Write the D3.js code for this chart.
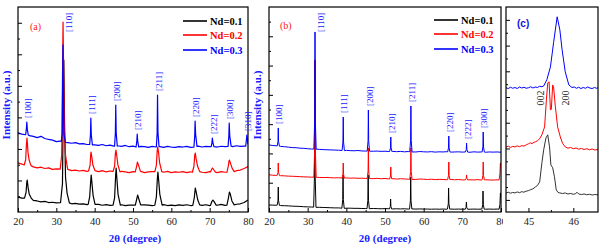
<!DOCTYPE html>
<html>
<head>
<meta charset="utf-8">
<script src="https://cdn.jsdelivr.net/npm/d3@7"></script>
<style>
body { margin: 0; background: #fff; }
svg text { font-family: "Liberation Serif", "Times New Roman", serif; }
</style>
</head>
<body>
<svg id="chart" width="600" height="247"></svg>
<script>
// ---- data ----
const seriesNames = ["Nd=0.1", "Nd=0.2", "Nd=0.3"];
const peakLabels = ["[100]", "[110]", "[111]", "[200]", "[210]", "[211]", "[220]", "[222]", "[300]", "[310]"];

// panel (a): baseline intensity at 2theta = 20, 21, ... 80
const baseA1 = [470, 440, 420, 400, 370, 350, 320, 335, 300, 310,
  290, 300, 280, 270, 260, 275, 250, 260, 235, 250,
  225, 240, 215, 235, 210, 225, 205, 230, 200, 220,
  215, 230, 205, 225, 215, 200, 230, 210, 235, 205,
  220, 200, 225, 210, 230, 205, 220, 240, 210, 230,
  200, 225, 215, 240, 210, 230, 220, 245, 260, 300, 380];
const baseA2 = [1560, 1520, 1500, 1470, 1430, 1400, 1420, 1380, 1400, 1350,
  1370, 1340, 1330, 1350, 1310, 1330, 1300, 1320, 1290, 1310,
  1300, 1280, 1310, 1270, 1300, 1280, 1260, 1290, 1270, 1250,
  1280, 1260, 1290, 1250, 1270, 1280, 1250, 1275, 1260, 1290,
  1250, 1270, 1260, 1280, 1250, 1275, 1260, 1290, 1260, 1250,
  1280, 1265, 1250, 1280, 1260, 1275, 1290, 1310, 1330, 1380, 1440];
const baseA3 = [2510, 2470, 2450, 2420, 2400, 2360, 2400, 2330, 2300, 2280,
  2230, 2250, 2210, 2200, 2180, 2200, 2160, 2170, 2140, 2150,
  2130, 2110, 2140, 2100, 2120, 2090, 2100, 2080, 2110, 2070,
  2090, 2060, 2080, 2070, 2050, 2080, 2060, 2070, 2050, 2080,
  2060, 2050, 2075, 2060, 2080, 2050, 2070, 2090, 2060, 2080,
  2070, 2090, 2060, 2085, 2070, 2090, 2075, 2100, 2080, 2090, 2100];

const peaksA1 = [
  [[21.7,440],[22.1,620],[22.3,950],[22.4,1014],[22.65,760],[22.95,560],[23.5,430]],
  [[31.1,300],[31.6,900],[31.8,3200],[31.95,4818],[32.15,2800],[32.4,1100],[32.8,600],[33.4,290]],
  [[38.3,240],[38.7,480],[38.95,950],[39.1,1173],[39.3,900],[39.6,520],[40.1,240]],
  [[44.8,215],[45.2,450],[45.45,1100],[45.6,1395],[45.8,1050],[46.1,560],[46.7,220]],
  [[50.6,215],[51.0,420],[51.2,539],[51.5,420],[52.0,225]],
  [[55.7,215],[56.1,480],[56.35,1050],[56.5,1268],[56.7,1000],[57.0,560],[57.6,220]],
  [[65.6,210],[66.0,460],[66.25,761],[66.5,620],[66.9,380],[67.4,225]],
  [[70.2,205],[70.6,340],[70.85,380],[71.2,320],[71.7,215]],
  [[74.5,215],[74.9,450],[75.15,634],[75.4,560],[75.8,350],[76.4,225]]
];
const peaksA2 = [
  [[21.6,1490],[22.0,1650],[22.2,2150],[22.35,2346],[22.6,1900],[22.9,1650],[23.4,1470]],
  [[31.0,1360],[31.4,1800],[31.6,4200],[31.75,6023],[31.9,4500],[32.1,2600],[32.4,1800],[32.9,1400]],
  [[38.4,1300],[38.8,1480],[38.95,1800],[39.05,1902],[39.25,1750],[39.55,1480],[40.1,1310]],
  [[44.8,1290],[45.2,1450],[45.4,1850],[45.55,1965],[45.75,1800],[46.05,1500],[46.6,1270]],
  [[50.6,1270],[51.0,1480],[51.15,1585],[51.45,1480],[51.95,1290]],
  [[55.7,1280],[56.1,1480],[56.3,1920],[56.45,2060],[56.65,1900],[56.95,1560],[57.5,1280]],
  [[65.5,1260],[65.9,1450],[66.1,1800],[66.25,1870],[66.45,1700],[66.85,1450],[67.4,1280]],
  [[70.2,1270],[70.5,1350],[70.75,1395],[71.05,1340],[71.5,1265]],
  [[74.5,1260],[74.9,1480],[75.05,1620],[75.15,1648],[75.45,1540],[75.85,1390],[76.4,1280]]
];
const peaksA3 = [
  [[22.0,2450],[22.2,2650],[22.3,2853],[22.45,2600],[22.7,2440]],
  [[31.3,2240],[31.55,2500],[31.65,4200],[31.72,5294],[31.82,3800],[32.0,2450],[32.4,2210]],
  [[38.7,2140],[38.9,2450],[39.0,2980],[39.12,2450],[39.4,2130]],
  [[45.2,2090],[45.4,2500],[45.5,3392],[45.62,2500],[45.9,2090]],
  [[50.8,2060],[51.0,2250],[51.1,2473],[51.22,2250],[51.5,2060]],
  [[56.1,2070],[56.3,2500],[56.4,3709],[56.52,2500],[56.8,2070]],
  [[65.9,2060],[66.1,2400],[66.2,2885],[66.35,2450],[66.7,2080]],
  [[70.4,2070],[70.6,2200],[70.7,2346],[70.85,2200],[71.1,2070]],
  [[74.8,2080],[75.0,2400],[75.1,2821],[75.25,2400],[75.6,2090]],
  [[79.4,2090],[79.6,2300],[79.7,2441],[79.85,2300],[80.0,2150]]
];
const peakAngleA = [22.3, 31.72, 39.0, 45.5, 51.1, 56.4, 66.2, 70.7, 75.1, 79.6];

// panel (b)
const baseB1 = [240, 235, 230, 220, 215, 210, 200, 195, 190, 180,
  175, 170, 165, 160, 155, 150, 145, 140, 140, 135,
  130, 130, 125, 125, 120, 120, 115, 120, 115, 110,
  115, 110, 105, 110, 105, 110, 100, 105, 100, 105,
  100, 100, 95, 100, 95, 100, 95, 100, 95, 100,
  95, 100, 95, 100, 95, 100, 95, 100, 95, 100, 95];
const baseB2 = [1270, 1255, 1250, 1240, 1235, 1225, 1220, 1215, 1205, 1200,
  1195, 1190, 1185, 1180, 1175, 1180, 1170, 1165, 1170, 1160,
  1165, 1155, 1160, 1150, 1155, 1145, 1150, 1140, 1150, 1135,
  1145, 1130, 1140, 1125, 1135, 1130, 1120, 1130, 1115, 1125,
  1120, 1110, 1120, 1105, 1115, 1110, 1100, 1115, 1100, 1110,
  1095, 1105, 1100, 1095, 1105, 1090, 1100, 1095, 1090, 1100, 1090];
const baseB3 = [2290, 2270, 2260, 2240, 2230, 2215, 2200, 2195, 2180, 2175,
  2160, 2150, 2145, 2140, 2130, 2125, 2120, 2115, 2110, 2100,
  2105, 2095, 2090, 2100, 2085, 2080, 2090, 2075, 2080, 2070,
  2075, 2065, 2070, 2060, 2070, 2055, 2065, 2060, 2050, 2065,
  2055, 2050, 2060, 2045, 2055, 2050, 2060, 2045, 2050, 2055,
  2045, 2050, 2040, 2055, 2045, 2050, 2040, 2050, 2045, 2050, 2040];

const peaksB1 = [
  [[22.1,230],[22.32,380],[22.4,854],[22.48,380],[22.7,225]],
  [[31.55,165],[31.77,1300],[31.85,5191],[31.93,1300],[32.15,160]],
  [[38.85,130],[39.07,420],[39.15,1264],[39.23,420],[39.45,125]],
  [[45.35,115],[45.57,400],[45.65,1264],[45.73,400],[45.95,110]],
  [[51.15,105],[51.37,190],[51.45,444],[51.53,190],[51.75,100]],
  [[56.35,100],[56.57,380],[56.65,1195],[56.73,380],[56.95,100]],
  [[66.15,100],[66.37,280],[66.45,820],[66.53,280],[66.75,95]],
  [[70.75,95],[70.97,160],[71.05,342],[71.13,160],[71.35,95]],
  [[75.05,95],[75.27,250],[75.35,717],[75.43,250],[75.65,95]],
  [[79.5,95],[79.72,250],[79.85,650],[80.0,500]]
];
const peaksB2 = [
  [[22.1,1250],[22.32,1350],[22.4,1673],[22.48,1350],[22.7,1245]],
  [[31.6,1190],[31.82,2200],[31.9,5191],[31.98,2200],[32.2,1185]],
  [[38.9,1160],[39.12,1290],[39.2,1673],[39.28,1290],[39.5,1155]],
  [[45.4,1145],[45.62,1400],[45.7,2186],[45.78,1400],[46.0,1140]],
  [[51.2,1125],[51.42,1230],[51.5,1537],[51.58,1230],[51.8,1120]],
  [[56.4,1115],[56.62,1380],[56.7,2186],[56.78,1380],[57.0,1110]],
  [[66.2,1105],[66.42,1250],[66.5,1707],[66.58,1250],[66.8,1100]],
  [[70.8,1100],[71.02,1150],[71.1,1264],[71.18,1150],[71.4,1095]],
  [[75.1,1095],[75.32,1250],[75.4,1707],[75.48,1250],[75.7,1095]],
  [[79.5,1095],[79.72,1300],[79.85,1673],[80.0,1500]]
];
const peaksB3 = [
  [[22.1,2250],[22.32,2400],[22.4,2869],[22.48,2400],[22.7,2245]],
  [[31.6,2150],[31.82,3150],[31.9,6147],[31.98,3150],[32.2,2145]],
  [[38.9,2100],[39.12,2390],[39.2,3244],[39.28,2390],[39.5,2095]],
  [[45.4,2080],[45.62,2430],[45.7,3483],[45.78,2430],[46.0,2075]],
  [[51.2,2065],[51.42,2190],[51.5,2561],[51.58,2190],[51.8,2060]],
  [[56.4,2055],[56.62,2450],[56.7,3620],[56.78,2450],[57.0,2050]],
  [[66.2,2050],[66.42,2190],[66.5,2595],[66.58,2190],[66.8,2050]],
  [[70.8,2050],[71.02,2130],[71.1,2356],[71.18,2130],[71.4,2045]],
  [[75.1,2045],[75.32,2220],[75.4,2732],[75.48,2220],[75.7,2045]]
];
const peakAngleB = [22.4, 31.9, 39.2, 45.7, 51.5, 56.7, 66.5, 71.1, 75.4];

// panel (c): zoom on the (002)/(200) split near 45.5 deg
const zoomC1 = [[44.5,270],[44.55,300],[44.6,260],[44.65,290],[44.7,270],[44.75,310],[44.8,280],[44.85,320],
  [44.9,300],[44.95,340],[45.0,360],[45.05,400],[45.1,430],[45.16,510],[45.2,560],[45.25,700],[45.3,1440],
  [45.34,1950],[45.39,2410],[45.43,2530],[45.47,2060],[45.5,1360],[45.54,1250],[45.58,900],[45.62,390],
  [45.66,290],[45.7,270],[45.76,250],[45.82,270],[45.88,230],[45.94,250],[46.0,220],[46.05,240],[46.08,300],
  [46.12,230],[46.18,210],[46.24,230],[46.3,200],[46.36,220],[46.42,190],[46.48,210],[46.55,195]];
const zoomC2 = [[44.5,2050],[44.55,2090],[44.6,2040],[44.65,2080],[44.7,2060],[44.75,2100],[44.8,2070],
  [44.85,2110],[44.9,2090],[44.95,2140],[45.0,2180],[45.04,2220],[45.08,2190],[45.12,2240],[45.16,2260],
  [45.2,2300],[45.25,2380],[45.3,2530],[45.36,2840],[45.4,3890],[45.43,4550],[45.46,4590],[45.49,3500],
  [45.51,3520],[45.54,4470],[45.56,4400],[45.6,3620],[45.65,2840],[45.71,2450],[45.76,2200],[45.82,2060],
  [45.88,2010],[45.94,2040],[46.0,1990],[46.06,2020],[46.12,1970],[46.18,2000],[46.24,1960],[46.3,1990],
  [46.36,1950],[46.42,1980],[46.48,1940],[46.55,1960]];
const zoomC3 = [[44.5,4360],[44.55,4330],[44.6,4380],[44.65,4340],[44.7,4370],[44.75,4330],[44.8,4390],
  [44.85,4350],[44.9,4380],[44.95,4340],[45.0,4360],[45.05,4400],[45.1,4350],[45.15,4390],[45.2,4370],
  [45.25,4420],[45.3,4400],[45.34,4430],[45.41,4670],[45.49,5170],[45.56,6110],[45.64,7120],[45.7,6610],
  [45.75,5840],[45.82,4980],[45.9,4470],[45.97,4370],[46.02,4390],[46.07,4340],[46.12,4380],[46.17,4330],
  [46.22,4370],[46.27,4340],[46.32,4390],[46.37,4350],[46.42,4330],[46.47,4370],[46.52,4340],[46.55,4360]];
const splitLabels = ["002", "200"];
const splitAngles = [45.26, 45.82];

const xTicksAB = [20, 30, 40, 50, 60, 70, 80];
const xTicksC = [45, 46];

// ---- helpers ----
function merge(base, peaks) {
  let pts = base.map((v, i) => [20 + i, v]);
  peaks.forEach(p => {
    const lo = p[0][0], hi = p[p.length - 1][0];
    pts = pts.filter(d => d[0] < lo || d[0] > hi).concat(p);
  });
  return pts.sort((a, b) => a[0] - b[0]);
}

const svg = d3.select("#chart");
const plotTop = 7, plotBottom = 212;
const colors = ["#000000", "#ff0000", "#0000ff"];
const labelBlue = "#1a1aff";

function drawPanel(p) {
  const g = svg.append("g");
  if (p.bg != null) {
    g.append("rect").attr("x", p.bg).attr("y", 0).attr("width", 600 - p.bg).attr("height", 247).attr("fill", "#fff");
  }
  const x = d3.scaleLinear().domain(p.xDomain).range([p.left, p.right]);
  const y = d3.scaleLinear().domain(p.yDomain).range([plotBottom, plotTop]);

  svg.append("clipPath").attr("id", "clip" + p.name)
    .append("rect").attr("x", p.left).attr("y", plotTop)
    .attr("width", p.right - p.left).attr("height", plotBottom - plotTop);

  const line = d3.line().x(d => x(d[0])).y(d => y(d[1]));
  p.curves.forEach((c, i) => {
    g.append("path")
      .attr("d", line(c))
      .attr("fill", "none")
      .attr("stroke", p.colors[i])
      .attr("stroke-width", p.sw)
      .attr("stroke-linejoin", "round")
      .attr("clip-path", "url(#clip" + p.name + ")");
  });

  // x axis, ticks pointing inward
  const xa = g.append("g").attr("transform", "translate(0," + plotBottom + ")")
    .call(d3.axisBottom(x).tickValues(p.xMajor).tickSizeInner(-4).tickSizeOuter(0).tickPadding(6).tickFormat(d3.format("d")));
  xa.select(".domain").remove();
  xa.selectAll("text").attr("font-size", "10.5px").attr("fill", "#222").style("font-family", '"Liberation Serif", serif');
  const xm = g.append("g").attr("transform", "translate(0," + plotBottom + ")")
    .call(d3.axisBottom(x).tickValues(p.xMinor).tickSizeInner(-2).tickSizeOuter(0).tickFormat(""));
  xm.select(".domain").remove();

  // y axis, no labels
  const ya = g.append("g").attr("transform", "translate(" + p.left + ",0)")
    .call(d3.axisLeft(y).tickValues(p.yMajor).tickSizeInner(-4).tickSizeOuter(0).tickFormat(""));
  ya.select(".domain").remove();
  const ym = g.append("g").attr("transform", "translate(" + p.left + ",0)")
    .call(d3.axisLeft(y).tickValues(p.yMinor).tickSizeInner(-2).tickSizeOuter(0).tickFormat(""));
  ym.select(".domain").remove();
  g.selectAll(".tick line").attr("stroke", "#000").attr("stroke-width", 1);

  // frame
  g.append("rect").attr("x", p.left).attr("y", plotTop)
    .attr("width", p.right - p.left).attr("height", plotBottom - plotTop)
    .attr("fill", "none").attr("stroke", "#000").attr("stroke-width", 1.2);

  return { g, x, y };
}

function axisTitles(g, cx, yx) {
  g.append("text").attr("x", cx).attr("y", 242)
    .attr("text-anchor", "middle").attr("font-size", "11px").attr("font-weight", "bold")
    .attr("fill", labelBlue).text("2θ (degree)");
  g.append("text").attr("transform", "translate(" + yx + ",105) rotate(-90)")
    .attr("text-anchor", "middle").attr("dy", "0.35em").attr("font-size", "11px").attr("font-weight", "bold")
    .attr("fill", labelBlue).text("Intensity (a.u.)");
}

function legend(g, x0, ys) {
  seriesNames.forEach((n, i) => {
    g.append("line").attr("x1", x0).attr("x2", x0 + 24).attr("y1", ys[i]).attr("y2", ys[i])
      .attr("stroke", colors[i]).attr("stroke-width", 1.6);
    g.append("text").attr("x", x0 + 27).attr("y", ys[i]).attr("dy", "0.35em")
      .attr("font-size", "10.5px").attr("font-weight", "bold").attr("fill", colors[i]).text(n);
  });
}

function peakTags(panel, blue, angles) {
  angles.forEach((a, i) => {
    const near = blue.filter(d => Math.abs(d[0] - a) < 0.2);
    const topVal = d3.max(near, d => d[1]);
    let px = panel.x(a) + 1, py = panel.y(topVal) - 4;
    if (peakLabels[i] === "[110]") { px += 5; py = 32; }
    panel.g.append("text")
      .attr("transform", "translate(" + px + "," + py + ") rotate(-90)")
      .attr("dy", "0.35em").attr("font-size", "9px").attr("fill", labelBlue)
      .text(peakLabels[i]);
  });
}

// ---- panel (a) ----
const curvesA = [merge(baseA1, peaksA1), merge(baseA2, peaksA2), merge(baseA3, peaksA3)];
const pa = drawPanel({
  name: "a", left: 18, right: 248, xDomain: [20, 80], yDomain: [0, 6500],
  xMajor: xTicksAB, xMinor: [25, 35, 45, 55, 65, 75],
  yMajor: [1000, 2000, 3000, 4000, 5000, 6000], yMinor: [500, 1500, 2500, 3500, 4500, 5500],
  curves: curvesA, colors: colors, sw: 1.2
});
peakTags(pa, curvesA[2], peakAngleA);
legend(pa.g, 183, [21, 35, 50]);
axisTitles(pa.g, 135, 6);
pa.g.append("text").attr("x", 30).attr("y", 30).attr("font-size", "10px").attr("fill", "#ff2020").text("(a)");

// ---- panel (b) ----
const curvesB = [merge(baseB1, peaksB1), merge(baseB2, peaksB2), merge(baseB3, peaksB3)];
const pb = drawPanel({
  name: "b", left: 269, right: 501, xDomain: [20, 80], yDomain: [0, 7000],
  xMajor: xTicksAB, xMinor: [25, 35, 45, 55, 65, 75],
  yMajor: [1000, 2000, 3000, 4000, 5000, 6000], yMinor: [500, 1500, 2500, 3500, 4500, 5500, 6500],
  curves: curvesB, colors: colors, sw: 1
});
peakTags(pb, curvesB[2], peakAngleB);
legend(pb.g, 434, [20, 34, 49]);
axisTitles(pb.g, 385, 257);
pb.g.append("text").attr("x", 280).attr("y", 29).attr("font-size", "10px").attr("fill", "#ff2020").text("(b)");

// ---- panel (c) ----
const pc = drawPanel({
  name: "c", left: 506, right: 598, xDomain: [44.5, 46.55], yDomain: [-470, 7500], bg: 503,
  xMajor: xTicksC, xMinor: [45.5],
  yMajor: [0, 1000, 2000, 3000, 4000, 5000, 6000, 7000], yMinor: [500, 1500, 2500, 3500, 4500, 5500, 6500],
  curves: [zoomC1, zoomC2, zoomC3], colors: ["#333333", "#ff0000", "#0000ff"], sw: 1
});
pc.g.append("text").attr("x", 517).attr("y", 27)
  .style("font-family", '"Liberation Sans", Arial, sans-serif')
  .attr("font-size", "10px").attr("font-weight", "bold").attr("fill", "#1010e0").text("(c)");
splitLabels.forEach((t, i) => {
  pc.g.append("text")
    .attr("transform", "translate(" + pc.x(splitAngles[i]) + ",98) rotate(-90)")
    .attr("text-anchor", "middle").attr("dy", "0.35em")
    .attr("font-size", "10px").attr("fill", "#222").text(t);
});
</script>
</body>
</html>
